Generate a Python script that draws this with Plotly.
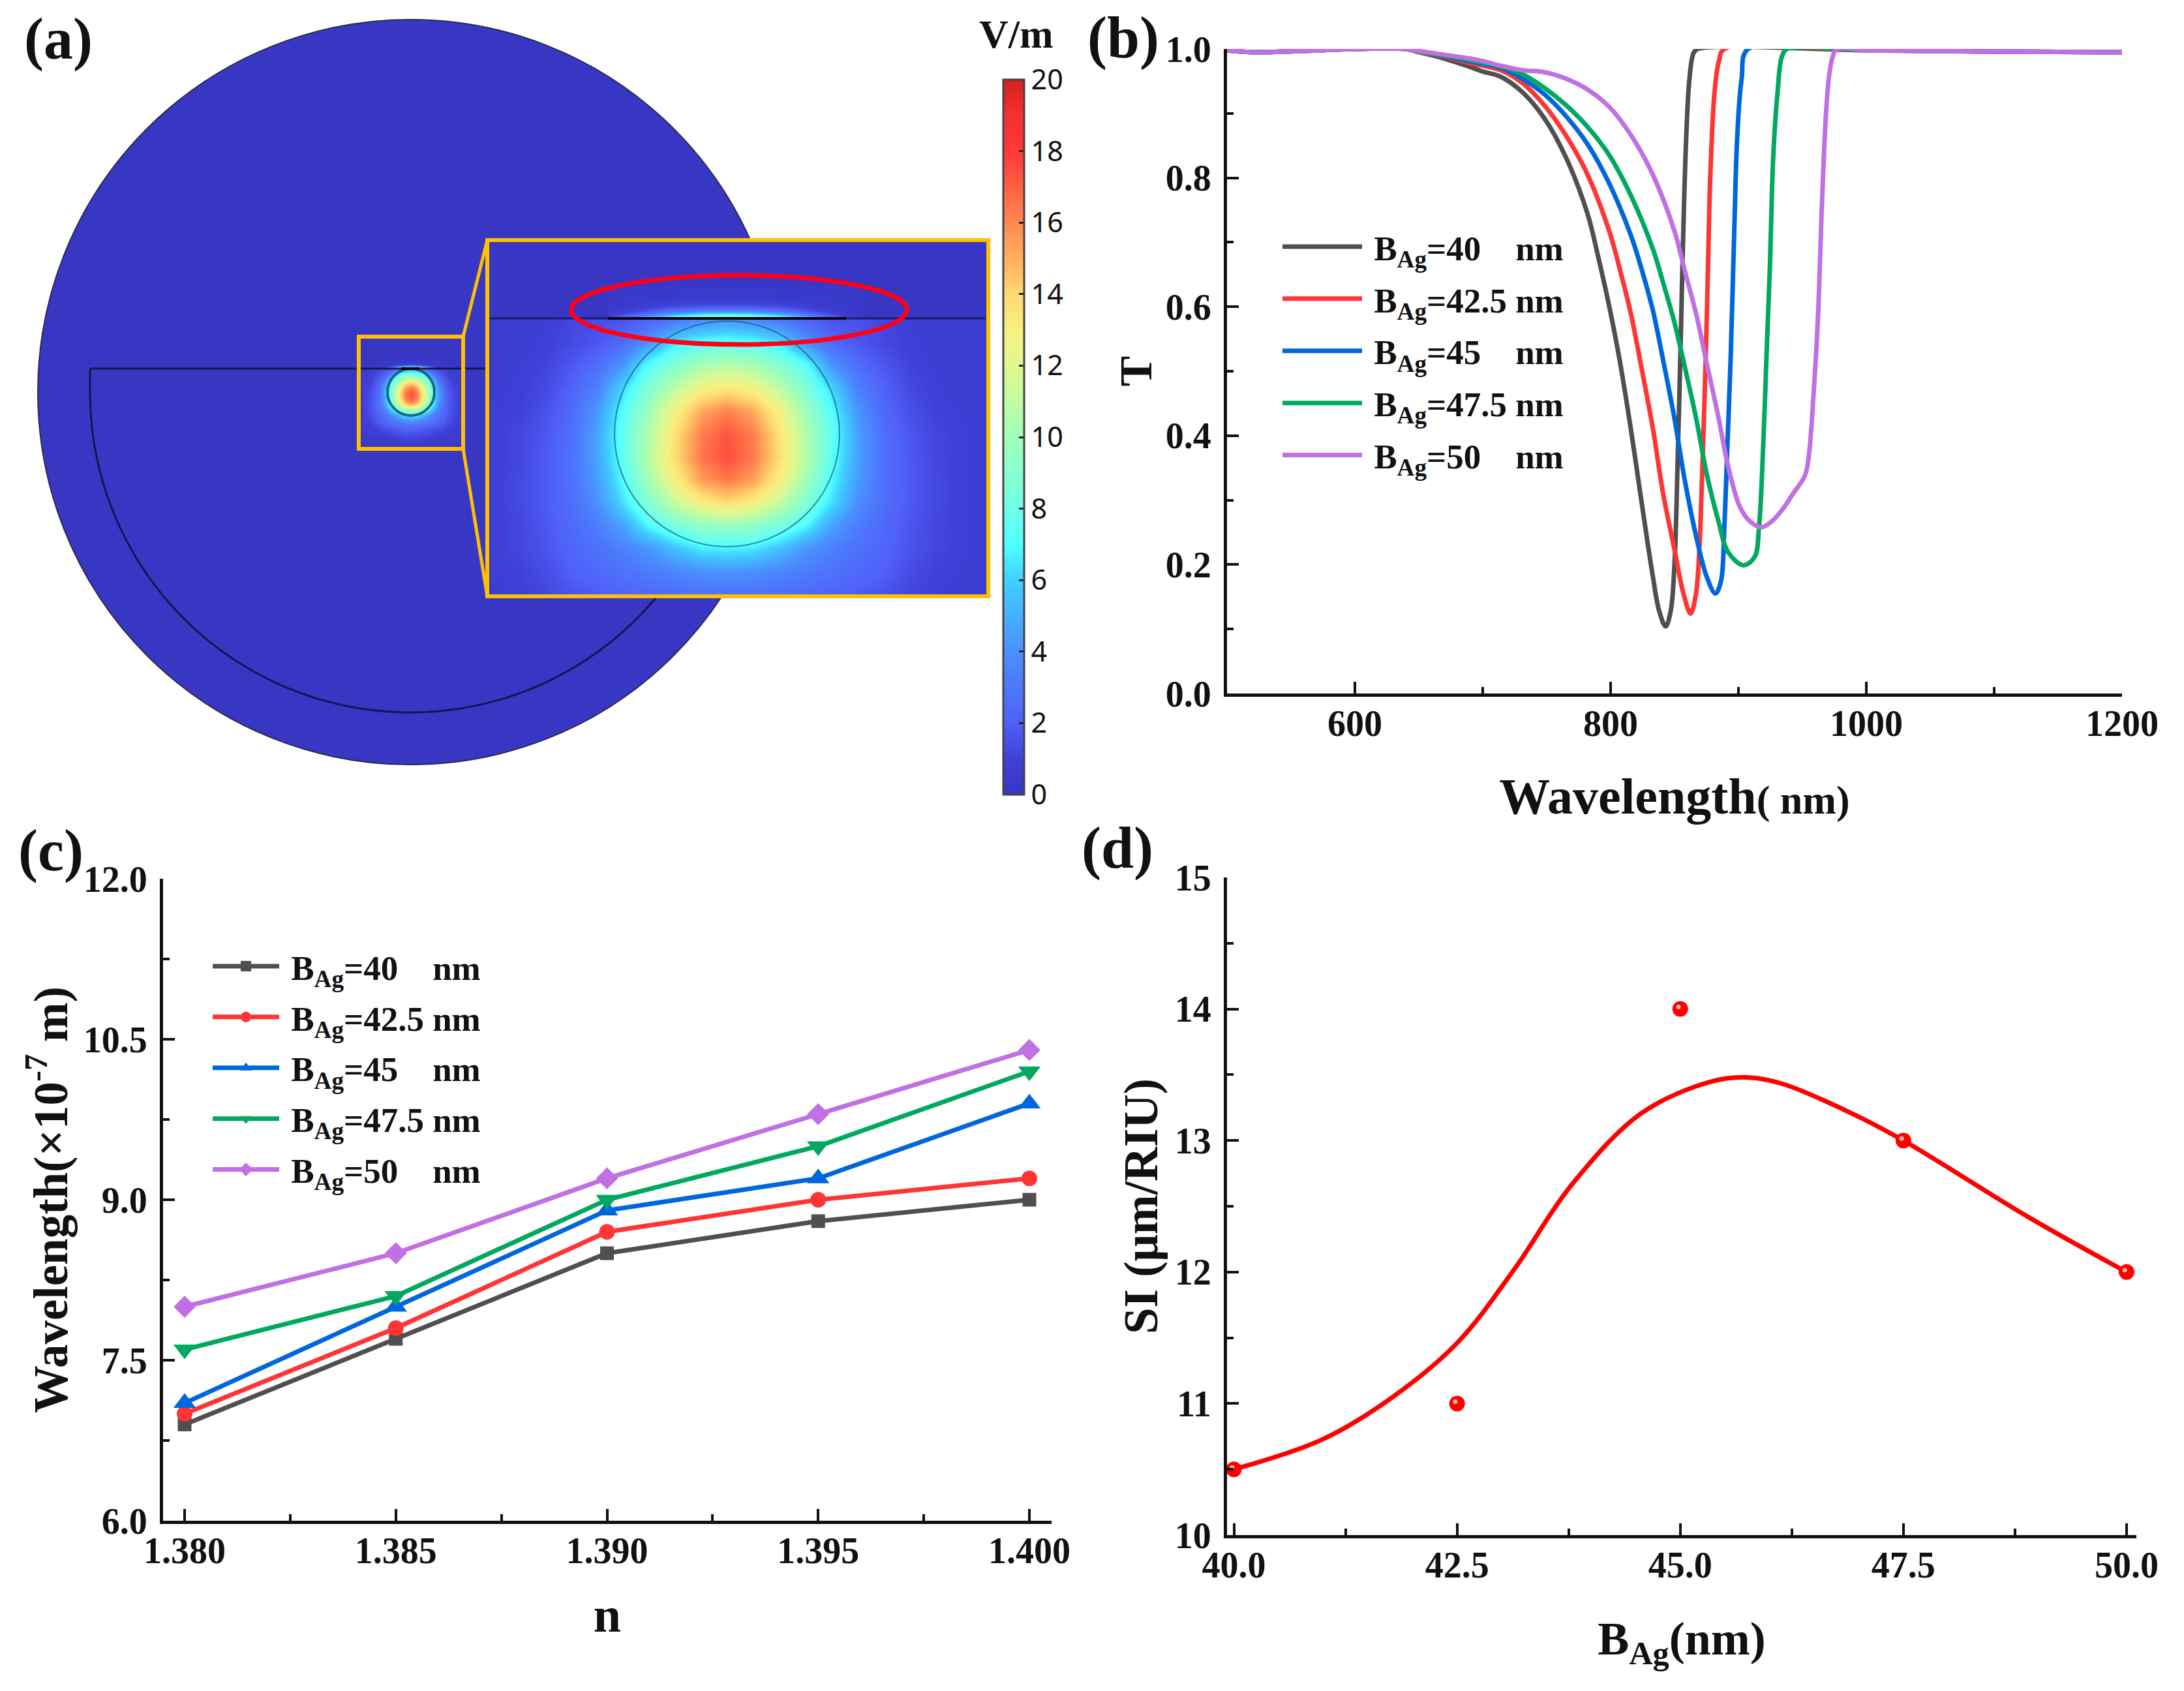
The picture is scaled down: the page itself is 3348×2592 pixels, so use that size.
import numpy as np
import plotly.graph_objects as go

W = 3348
H = 2592
SERIF = "Liberation Serif"
labels = ["\u00a0B<sub>Ag</sub>=40\u00a0\u00a0\u00a0\u00a0nm", "\u00a0B<sub>Ag</sub>=42.5\u00a0nm", "\u00a0B<sub>Ag</sub>=45\u00a0\u00a0\u00a0\u00a0nm",
          "\u00a0B<sub>Ag</sub>=47.5\u00a0nm", "\u00a0B<sub>Ag</sub>=50\u00a0\u00a0\u00a0\u00a0nm"]
colors = ["#4f4f4f", "#ff3535", "#0066dd", "#00a860", "#c070e2"]

# panel b
head_wl = [500, 520, 560, 600, 640]
head_t = [0.998, 0.995, 0.997, 1.0, 1.0]
tail_wl = [1000, 1100, 1200]
tail_t = [0.998, 0.996, 0.995]
wl_40 = [650, 670, 690, 700, 714, 731, 748, 765, 782, 790, 799, 807, 816, 824, 833, 838, 843, 847, 850, 852.4, 855, 856.6, 859.2, 861.7, 865, 868.5]
t_40 = [0.995, 0.985, 0.972, 0.965, 0.957, 0.933, 0.893, 0.832, 0.744, 0.68, 0.60, 0.518, 0.408, 0.30, 0.182, 0.128, 0.104, 0.128, 0.202, 0.358, 0.561, 0.697, 0.866, 0.954, 0.994, 1.0]
wl_425 = [650, 670, 690, 700, 714, 731, 748, 765, 782, 799, 807, 816, 824, 833, 841, 850, 857, 862.6, 866.8, 869.4, 871.9, 874.5, 876.2, 877.9, 881.3, 884.7, 889]
t_425 = [0.995, 0.988, 0.978, 0.974, 0.967, 0.947, 0.913, 0.866, 0.805, 0.717, 0.660, 0.588, 0.507, 0.412, 0.311, 0.223, 0.155, 0.124, 0.155, 0.223, 0.358, 0.527, 0.663, 0.798, 0.933, 0.981, 1.0]
wl_45 = [650, 670, 690, 700, 714, 731, 748, 765, 782, 799, 816, 824, 833, 841, 850, 858, 867, 875, 882, 886.4, 888.9, 891.5, 894, 896.6, 899.1, 902.5, 907.6]
t_45 = [0.996, 0.989, 0.981, 0.977, 0.971, 0.954, 0.930, 0.896, 0.852, 0.791, 0.710, 0.660, 0.595, 0.518, 0.426, 0.331, 0.243, 0.182, 0.155, 0.175, 0.256, 0.392, 0.527, 0.710, 0.866, 0.954, 1.0]
wl_475 = [650, 670, 690, 700, 714, 731, 748, 765, 782, 799, 816, 833, 841, 850, 858, 867, 875, 884, 892, 904, 912.7, 916, 919.5, 922, 924.6, 927.2, 930.6, 934, 938.2]
t_475 = [0.996, 0.990, 0.983, 0.979, 0.973, 0.961, 0.940, 0.913, 0.879, 0.835, 0.772, 0.690, 0.638, 0.575, 0.507, 0.426, 0.342, 0.270, 0.219, 0.199, 0.212, 0.256, 0.392, 0.527, 0.663, 0.832, 0.933, 0.988, 1.0]
wl_50 = [650, 670, 690, 700, 714, 731, 748, 765, 782, 799, 816, 833, 850, 858, 867, 875, 884, 892, 901, 909, 918, 926, 935, 943, 952, 955.2, 958.6, 962, 965.4, 968.2, 971, 974, 977]
t_50 = [0.997, 0.991, 0.985, 0.981, 0.974, 0.967, 0.964, 0.954, 0.937, 0.910, 0.866, 0.805, 0.717, 0.656, 0.588, 0.514, 0.432, 0.352, 0.290, 0.267, 0.258, 0.267, 0.287, 0.311, 0.338, 0.372, 0.460, 0.575, 0.764, 0.890, 0.960, 0.990, 1.0]

# panel c
n_values = [1.38, 1.385, 1.39, 1.395, 1.40]
res_40 = [6.9, 7.7, 8.5, 8.8, 9.0]
res_425 = [7.0, 7.8, 8.7, 9.0, 9.2]
res_45 = [7.1, 8.0, 8.9, 9.2, 9.9]
res_475 = [7.6, 8.1, 9.0, 9.5, 10.2]
res_50 = [8.0, 8.5, 9.2, 9.8, 10.4]

# panel d
bag = [40, 42.5, 45, 47.5, 50]
si = [10.5, 11, 14, 13, 12]
fit_x = [40, 41, 41.8, 42.5, 43.14, 43.78, 44.57, 45.36, 45.76, 46.15, 46.94, 47.5, 48.92, 50]
fit_y = [10.5, 10.73, 11.06, 11.46, 12.02, 12.66, 13.21, 13.45, 13.48, 13.43, 13.2, 13.0, 12.41, 12.0]

# panel a field, estimated from the inset colours (V/m). Half rows, the field is mirror symmetric
core_dx = [0, 40, 80, 120, 160, 200, 240, 280, 320, 360, 400]
core_dy = [-197, -162, -127, -92, -57, -22, 13, 48, 83, 118, 153, 188, 223, 258, 293, 328, 363]
core_half = [
    [4.2, 3.8, 3.0, 2.2, 1.6, 1.5, 1.2, 0.8, 0.7, 0.7, 0.7],
    [7.6, 7.3, 6.6, 4.2, 2.4, 1.7, 1.3, 0.9, 0.7, 0.7, 0.7],
    [10.8, 10.3, 9.0, 7.4, 4.2, 2.6, 1.7, 1.1, 0.8, 0.7, 0.7],
    [13.4, 12.8, 11.0, 8.8, 6.2, 3.4, 2.1, 1.3, 0.9, 0.7, 0.7],
    [16.2, 15.2, 12.8, 10.0, 7.2, 4.2, 2.4, 1.5, 1.0, 0.8, 0.7],
    [17.3, 16.2, 13.6, 10.6, 7.6, 4.6, 2.6, 1.7, 1.2, 0.9, 0.7],
    [17.5, 16.4, 13.8, 10.8, 7.5, 4.6, 2.7, 1.8, 1.2, 0.9, 0.7],
    [16.4, 15.4, 13.0, 10.2, 7.0, 4.4, 2.7, 1.8, 1.3, 0.9, 0.7],
    [13.8, 13.0, 11.2, 8.8, 6.4, 3.9, 2.6, 1.8, 1.3, 0.9, 0.7],
    [9.8, 9.4, 8.4, 7.0, 4.6, 3.2, 2.4, 1.7, 1.2, 0.9, 0.7],
    [6.8, 6.6, 5.6, 4.2, 3.4, 2.7, 2.2, 1.6, 1.2, 0.9, 0.7],
    [4.2, 4.0, 3.6, 3.2, 2.8, 2.4, 2.0, 1.4, 1.0, 0.8, 0.7],
    [2.8, 2.8, 2.6, 2.4, 2.2, 1.9, 1.6, 1.2, 0.9, 0.7, 0.7],
    [2.0, 2.0, 1.9, 1.7, 1.5, 1.3, 1.1, 0.9, 0.7, 0.6, 0.5],
    [1.4, 1.4, 1.3, 1.2, 1.1, 0.9, 0.8, 0.7, 0.6, 0.5, 0.4],
    [1.0, 1.0, 0.9, 0.8, 0.7, 0.6, 0.5, 0.5, 0.4, 0.4, 0.3],
    [0.5, 0.5, 0.5, 0.4, 0.4, 0.4, 0.3, 0.3, 0.3, 0.3, 0.3],
]
film_dx = [0, 30, 60, 90, 120, 150, 180, 210]
film_dy = [-247, -235, -227, -219, -211, -205, -200]
film_half = [
    [0.3, 0.3, 0.3, 0.3, 0.3, 0.3, 0.3, 0.3],
    [0.4, 0.4, 0.4, 0.35, 0.3, 0.3, 0.3, 0.3],
    [0.7, 0.7, 0.65, 0.55, 0.45, 0.35, 0.3, 0.3],
    [1.5, 1.5, 1.3, 1.1, 0.8, 0.5, 0.3, 0.3],
    [3.5, 3.4, 3.0, 2.4, 1.6, 0.9, 0.4, 0.3],
    [7.5, 7.2, 6.2, 4.8, 3.2, 1.8, 0.7, 0.3],
    [13.0, 12.5, 11.0, 8.5, 6.5, 4.0, 1.4, 0.4],
]
comsol = [[0, "#3636c4"], [0.05, "#4040d8"], [0.1, "#5060f8"], [0.2, "#4a90ff"], [0.3, "#40d0ff"], [0.35, "#50ffff"],
          [0.4, "#70ffea"], [0.5, "#a0ffb8"], [0.6, "#e0f890"], [0.65, "#f8f080"], [0.7, "#ffd870"], [0.75, "#ffb060"],
          [0.8, "#ff8850"], [0.9, "#ff3838"], [0.95, "#f53030"], [1, "#d82020"]]
colorbar_ticks = [0, 2, 4, 6, 8, 10, 12, 14, 16, 18, 20]


def pad(coords):
    # tight outer cells, so the heatmap stops at its first and last row
    return [coords[0] - 1] + list(coords) + [coords[-1] + 1]


def field(cx, cy, k, dx, dy, half):
    rows = [r[-2:0:-1] + r[:len(dx)] if len(dx) == len(r) else r[len(dx) - 1:0:-1] + r[:len(dx)] for r in half]
    rows = [[r[0]] + r + [r[-1]] for r in rows]
    rows = [rows[0]] + rows + [rows[-1]]
    if len(dx) == len(half[0]):
        xs = [-d for d in dx[-2:0:-1]] + dx
    else:
        xs = [-d for d in dx[:0:-1]] + dx
    return go.Heatmap(x=pad([cx + d / k for d in xs]), y=pad([cy + d / k for d in dy]), z=rows,
                      coloraxis="coloraxis", zsmooth="best", hoverinfo="skip", xaxis="x", yaxis="y", showscale=False)


fig = go.Figure()

# inset and the small copy of it use the same table, scale 4.8
INSET_X, INSET_Y = 1114, 687
SMALL_X, SMALL_Y = 630, 605
fig.add_trace(field(INSET_X, INSET_Y, 1, core_dx, core_dy[:13], core_half[:13]))
fig.add_trace(field(INSET_X, INSET_Y, 1, film_dx, film_dy, film_half))
fig.add_trace(field(SMALL_X, SMALL_Y, 4.8, core_dx[:10], core_dy, core_half))
fig.add_trace(field(SMALL_X, SMALL_Y, 4.8, film_dx, film_dy, film_half))

b_series = [(wl_40, t_40), (wl_425, t_425), (wl_45, t_45), (wl_475, t_475), (wl_50, t_50)]
for (wl, t), name, col in zip(b_series, labels, colors):
    fig.add_trace(go.Scatter(x=head_wl + wl + tail_wl, y=head_t + t + tail_t, mode="lines", name=name, legendgroup="b" + name,
                             line=dict(color=col, width=7, shape="spline", smoothing=1.0), cliponaxis=False,
                             xaxis="x2", yaxis="y2", legend="legend"))

c_series = [res_40, res_425, res_45, res_475, res_50]
symbols = ["square", "circle", "triangle-up", "triangle-down", "diamond"]
sizes = [21, 24, 30, 30, 26]
for res, name, col, sym, sz in zip(c_series, labels, colors, symbols, sizes):
    fig.add_trace(go.Scatter(x=n_values, y=res, mode="lines+markers", name=name, legendgroup="c" + name,
                             line=dict(color=col, width=7), marker=dict(symbol=sym, size=sz, color=col), cliponaxis=False,
                             xaxis="x3", yaxis="y3", legend="legend2"))

fig.add_trace(go.Scatter(x=fit_x, y=fit_y, mode="lines", line=dict(color="#ff0000", width=7, shape="spline"),
                         cliponaxis=False, showlegend=False, xaxis="x4", yaxis="y4"))
fig.add_trace(go.Scatter(x=bag, y=si, mode="markers", marker=dict(size=24, color="#ff0000"), cliponaxis=False,
                         showlegend=False, xaxis="x4", yaxis="y4"))
# highlight on the balls
fig.add_trace(go.Scatter(x=[v - 0.02 for v in bag], y=[v + 0.015 for v in si], mode="markers",
                         marker=dict(size=7, color="#ffb4b4"), cliponaxis=False, showlegend=False,
                         xaxis="x4", yaxis="y4"))


def axis(x0, x1, y0, y1, vertical, rng, dtick, tick0, minor, fmt, size, title, tsize, standoff, lab_off):
    if vertical:
        dom = [1 - y1 / H, 1 - y0 / H]
    else:
        dom = [x0 / W, x1 / W]
    return dict(domain=dom, range=rng, dtick=dtick, tick0=tick0, tickformat=fmt, showgrid=False, zeroline=False,
                showline=True, linecolor="#111", linewidth=5, ticks="inside", ticklen=18, tickwidth=4, tickcolor="#111",
                minor=dict(dtick=minor, tick0=tick0, ticks="inside", ticklen=10, tickwidth=4, tickcolor="#111"),
                tickfont=dict(family=SERIF, size=size, weight=700, color="#111"), ticklabelstandoff=lab_off,
                title=dict(text=title, standoff=standoff, font=dict(family=SERIF, size=tsize, weight=700, color="#111")))


# panel a drawn in picture pixels, on a hidden axis pair
plain = dict(visible=False, showgrid=False, zeroline=False)
layout = dict(
    width=W, height=H, margin=dict(l=0, r=0, t=0, b=0, autoexpand=False), paper_bgcolor="white", plot_bgcolor="rgba(0,0,0,0)",
    xaxis=dict(domain=[0, 1680 / W], range=[0, 1680], **plain),
    yaxis=dict(domain=[1 - 1260 / H, 1], range=[1260, 0], **plain),
    xaxis2=dict(axis(1881, 3253, 75, 1063, False, [500, 1200], 200, 600, 100, "d", 56,
                     "Wavelength<span style='font-size:62px'>( nm)</span>", 78, 55, -7), anchor="y2"),
    yaxis2=dict(axis(1881, 3253, 75, 1063, True, [0, 1], 0.2, 0, 0.1, ".1f", 56, "T", 70, 0, 8), anchor="x2"),
    xaxis3=dict(axis(250, 1612, 1347, 2331, False, [1.37949, 1.400525], 0.005, 1.38, 0.0025, ".3f", 56, "n", 76, 42, -7),
                anchor="y3"),
    yaxis3=dict(axis(250, 1612, 1347, 2331, True, [6, 12], 1.5, 6, 0.75, ".1f", 56,
                     "Wavelength(×10<sup>-7</sup> m)", 73, 2, 8), anchor="x3"),
    xaxis4=dict(axis(1881, 3275, 1345, 2353, False, [39.923, 50.11], 2.5, 40, 1.25, ".1f", 56,
                     "B<sub>Ag</sub>(nm)", 72, 58, -7), anchor="y4"),
    yaxis4=dict(axis(1881, 3275, 1345, 2353, True, [10, 15], 1, 10, 0.5, "d", 56, "SI (μm/RIU)", 73, 4, 8), anchor="x4"),
    coloraxis=dict(cmin=0, cmax=20, colorscale=comsol, colorbar=dict(
        x=1538 / W, xanchor="left", y=1 - 1218 / H, yanchor="bottom", len=1096 / H, thickness=32, xpad=0, ypad=0,
        tickvals=colorbar_ticks, ticks="inside", ticklen=9, tickwidth=3, tickcolor="#222", outlinecolor="#444",
        outlinewidth=3, tickprefix="\u00a0", tickfont=dict(family="Noto Sans", size=43, color="#111"))),
    legend=dict(x=1961 / W, y=1 - 337 / H, yanchor="top", itemwidth=122, bgcolor="rgba(0,0,0,0)", tracegroupgap=8,
                font=dict(family=SERIF, size=53, weight=700, color="#111")),
    legend2=dict(x=321 / W, y=1 - 1440 / H, yanchor="top", itemwidth=102, bgcolor="rgba(0,0,0,0)", tracegroupgap=6,
                 font=dict(family=SERIF, size=53, weight=700, color="#111")),
)
fig.update_layout(**layout)

# schematic of panel a
DISC = "#3737c4"
GOLD = "#ffc000"
DARK = "#15154f"
t = np.linspace(np.pi, 0, 121)
arc = " L ".join(f"{629 + 491 * np.cos(v):.1f},{601 + 491 * np.sin(v):.1f}" for v in t)
d_path = f"M 138,565 L 138,601 L {arc}"


def shape(kind, x0, y0, x1, y1, **kw):
    return dict(type=kind, xref="x", yref="y", x0=x0, y0=y0, x1=x1, y1=y1, **kw)


shapes = [
    shape("circle", 58, 30, 1200, 1172, fillcolor=DISC, line=dict(color="#2a2a50", width=2), layer="below"),
    dict(type="path", xref="x", yref="y", path=d_path, line=dict(color=DARK, width=3), layer="below"),
    shape("rect", 747, 368, 1515, 914, fillcolor=DISC, line=dict(width=0), layer="below"),
    shape("line", 138, 565, 747, 565, line=dict(color=DARK, width=3)),
    shape("line", 751, 488, 1511, 488, line=dict(color="#1b1b66", width=3)),
    shape("line", 932, 488, 1297, 488, line=dict(color="#000", width=4)),
    shape("circle", 942, 492, 1287, 838, line=dict(color="rgba(20,80,100,0.65)", width=2)),
    shape("circle", 594, 565, 666, 637, line=dict(color="rgba(20,70,90,0.8)", width=4)),
    shape("line", 615, 565, 643, 565, line=dict(color="#000", width=4)),
    shape("circle", 876, 422, 1390, 528, line=dict(color="#ff0018", width=7)),
    shape("rect", 550, 516, 710, 688, line=dict(color=GOLD, width=6)),
    shape("rect", 747, 368, 1515, 914, line=dict(color=GOLD, width=6)),
    shape("line", 710, 516, 747, 368, line=dict(color=GOLD, width=5)),
    shape("line", 710, 688, 747, 914, line=dict(color=GOLD, width=5)),
]
fig.update_layout(shapes=shapes)

notes = [("(a)", 35, 60), ("(b)", 1665, 58), ("(c)", 26, 1304), ("(d)", 1656, 1300)]
ann = [dict(text=s, x=px / W, y=1 - py / H, xref="paper", yref="paper", xanchor="left", yanchor="middle", showarrow=False,
            font=dict(family=SERIF, size=90, weight=700, color="#111")) for s, px, py in notes]
ann.append(dict(text="V/m", x=1558 / W, y=1 - 52 / H, xref="paper", yref="paper", xanchor="center", yanchor="middle",
                showarrow=False, font=dict(family=SERIF, size=62, weight=700, color="#111")))
fig.update_layout(annotations=ann)

fig.write_html("out.html", config=dict(displayModeBar=False), post_script="document.body.style.margin='0';")
